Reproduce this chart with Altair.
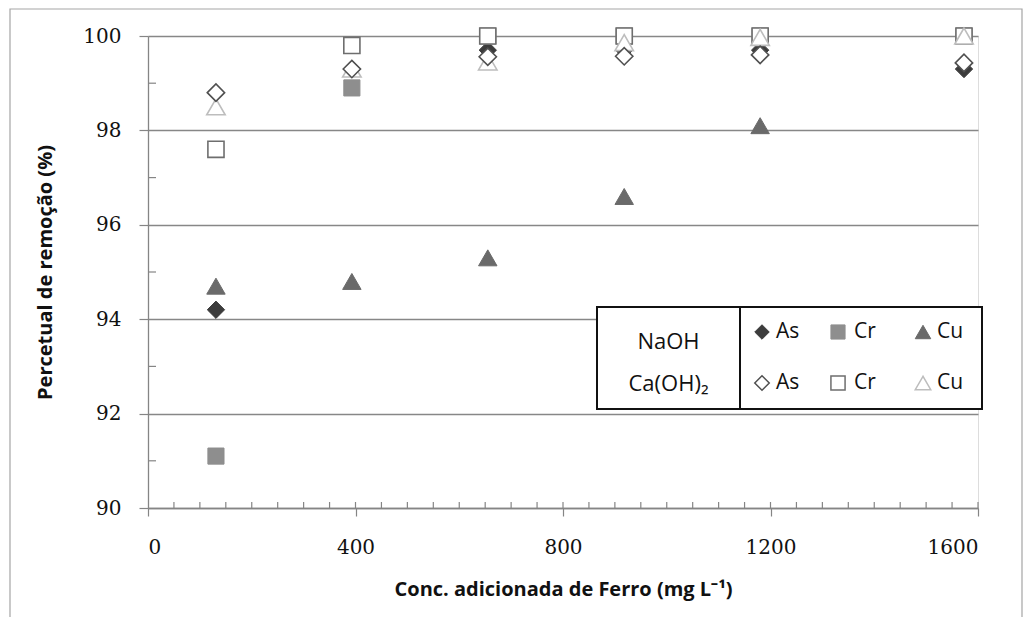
import altair as alt
import pandas as pd

# ---- data ----
fe_conc = [131, 393, 655, 918, 1180, 1573]
as_naoh = [94.2, 99.3, 99.7, 99.7, 99.7, 99.3]
cr_naoh = [91.1, 98.9, 100.0, 100.0, 100.0, 100.0]
cu_naoh = [94.7, 94.8, 95.3, 96.6, 98.1, None]
as_caoh = [98.8, 99.3, 99.56, 99.57, 99.6, 99.43]
cr_caoh = [97.6, 99.8, 100.0, 100.0, 100.0, 100.0]
cu_caoh = [98.5, 99.3, 99.45, 99.86, 99.97, 100.0]

y_ticks = [90, 92, 94, 96, 98, 100]
y_minor = [91, 93, 95, 97, 99]
x_ticks = [0, 400, 800, 1200, 1600]
x_minor = list(range(50, 1601, 50))

# ---- layout ----
W, H = 830, 472
PAD_L, PAD_T = 148, 36

# name, values, shape, filled?, color
series = [
    ("As NaOH", as_naoh, "diamond", True, "#3c3c3c"),
    ("Cr NaOH", cr_naoh, "square", True, "#8e8e8e"),
    ("Cu NaOH", cu_naoh, "triangle-up", True, "#6a6a6a"),
    ("Cr Ca(OH)2", cr_caoh, "square", False, "#6e6e6e"),
    ("Cu Ca(OH)2", cu_caoh, "triangle-up", False, "#bdbdbd"),
    ("As Ca(OH)2", as_caoh, "diamond", False, "#505050"),
]
sizes = {"diamond": 300, "square": 260, "triangle-up": 340}

rows = []
for name, vals, *_ in series:
    for xv, yv in zip(fe_conc, vals):
        if yv is not None:
            rows.append({"x": xv, "y": yv, "s": name})
df = pd.DataFrame(rows)

x_scale = alt.Scale(domain=[0, 1600], nice=False, zero=False)
y_scale = alt.Scale(domain=[90, 100], nice=False, zero=False)

label_font = "DejaVu Serif"
title_font = "Open Sans"

x_axis = alt.Axis(
    values=x_ticks, format="d", title="Conc. adicionada de Ferro (mg L⁻¹)", grid=False,
    tickSize=8, tickColor="#858585", tickWidth=1.2,
    domainColor="#858585", domainWidth=1.3,
    labelFont=label_font, labelFontSize=20, labelColor="#111111", labelPadding=21,
    titleFont=title_font, titleFontSize=20, titleFontWeight="bold", titleColor="#111111",
    titlePadding=22,
)
y_axis = alt.Axis(
    values=y_ticks, format="d", title="Percetual de remoção (%)", grid=True,
    gridColor="#878787", gridWidth=1.3,
    tickSize=9, tickColor="#858585", tickWidth=1.2,
    domainColor="#858585", domainWidth=1.3,
    labelFont=label_font, labelFontSize=20, labelColor="#111111", labelPadding=18,
    titleFont=title_font, titleFontSize=20, titleFontWeight="bold", titleColor="#111111",
    titlePadding=27,
)

X = alt.X("x:Q", scale=x_scale, axis=x_axis)
Y = alt.Y("y:Q", scale=y_scale, axis=y_axis)

layers = []

# outer frame of the figure
frame = alt.Chart(pd.DataFrame({"a": [0]})).mark_rect(
    fill=None, stroke="#a5a5a5", strokeWidth=1.2
).encode(
    x=alt.value(10 - PAD_L), x2=alt.value(1022 - PAD_L),
    y=alt.value(9 - PAD_T), y2=alt.value(640 - PAD_T),
)
layers.append(frame)

base = alt.Chart(df).encode(x=X, y=Y)

# minor ticks (inside)
ym = alt.Chart(pd.DataFrame({"y": y_minor})).mark_rule(
    color="#858585", strokeWidth=1.2
).encode(y=Y, x=alt.value(0), x2=alt.value(8))
xm = alt.Chart(pd.DataFrame({"x": x_minor})).mark_rule(
    color="#858585", strokeWidth=1.2
).encode(x=X, y=alt.value(H), y2=alt.value(H - 6))
layers += [ym, xm]

for name, vals, shape, filled, color in series:
    if filled:
        props = dict(shape=shape, filled=True, fill=color, stroke=color,
                     strokeWidth=1, opacity=1, size=sizes[shape])
    else:
        props = dict(shape=shape, filled=True, fill="white", stroke=color,
                     strokeWidth=1.6, opacity=1, size=sizes[shape])
    layers.append(base.mark_point(**props).transform_filter(alt.datum.s == name))

# ---- legend (drawn box) ----
one = pd.DataFrame({"a": [0]})
box_top, box_bot = 307 - PAD_T, 409 - PAD_T
left_x0, mid_x, right_x1 = 597 - PAD_L, 740 - PAD_L, 982 - PAD_L
for x0, x1 in [(left_x0, mid_x), (mid_x, right_x1)]:
    layers.append(
        alt.Chart(one).mark_rect(fill="white", stroke="#111111", strokeWidth=2)
        .encode(x=alt.value(x0), x2=alt.value(x1), y=alt.value(box_top), y2=alt.value(box_bot))
    )

row_y = [332 - PAD_T, 383 - PAD_T]
col_sym_x = [762 - PAD_L, 838 - PAD_L, 923 - PAD_L]
col_lab_x = [776 - PAD_L, 854 - PAD_L, 937 - PAD_L]
legend_order = [
    ["As NaOH", "Cr NaOH", "Cu NaOH"],
    ["As Ca(OH)2", "Cr Ca(OH)2", "Cu Ca(OH)2"],
]
style = {s[0]: s for s in series}
leg_sizes = {"diamond": 210, "square": 200, "triangle-up": 240}
for r, names in enumerate(legend_order):
    for c, name in enumerate(names):
        _, _, shape, filled, color = style[name]
        fill = color if filled else "white"
        layers.append(
            alt.Chart(one).mark_point(
                shape=shape, filled=True, fill=fill, stroke=color,
                strokeWidth=1 if filled else 1.5, opacity=1, size=leg_sizes[shape]
            ).encode(x=alt.value(col_sym_x[c]), y=alt.value(row_y[r]))
        )
        layers.append(
            alt.Chart(one).mark_text(
                text=name.split(" ")[0], align="left", baseline="middle",
                font=title_font, fontSize=21, color="#111111"
            ).encode(x=alt.value(col_lab_x[c]), y=alt.value(row_y[r]))
        )

for txt, ty in [("NaOH", 342 - PAD_T), ("Ca(OH)₂", 384 - PAD_T)]:
    layers.append(
        alt.Chart(one).mark_text(
            text=txt, align="center", baseline="middle",
            font=title_font, fontSize=22, color="#111111"
        ).encode(x=alt.value((left_x0 + mid_x) / 2), y=alt.value(ty))
    )

chart = alt.layer(*layers).properties(
    width=W, height=H,
    autosize=alt.AutoSizeParams(type="none"),
    padding={"left": PAD_L, "top": PAD_T, "right": 1032 - PAD_L - W, "bottom": 617 - PAD_T - H},
).configure_view(stroke=None).configure(background="white")

chart.save("out.html", embed_options={"renderer": "svg", "actions": False})
